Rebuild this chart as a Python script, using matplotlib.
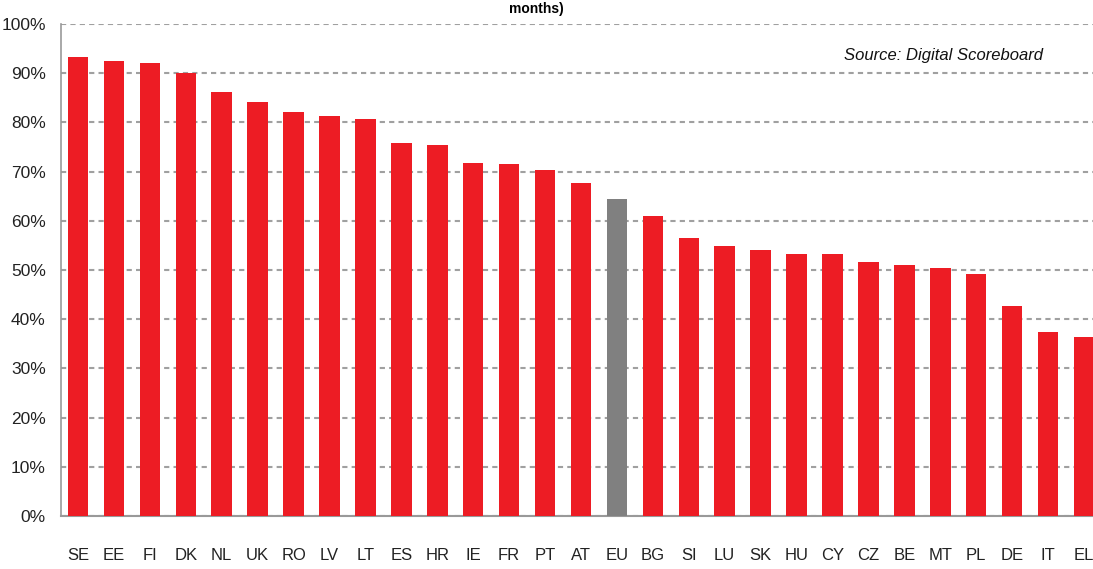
import matplotlib.pyplot as plt
from matplotlib.ticker import PercentFormatter

countries = ['SE', 'EE', 'FI', 'DK', 'NL', 'UK', 'RO', 'LV', 'LT', 'ES',
             'HR', 'IE', 'FR', 'PT', 'AT', 'EU', 'BG', 'SI', 'LU', 'SK',
             'HU', 'CY', 'CZ', 'BE', 'MT', 'PL', 'DE', 'IT', 'EL']
share = [93.3, 92.5, 92.1, 90.0, 86.2, 84.1, 82.1, 81.3, 80.7, 75.8,
         75.4, 71.7, 71.5, 70.3, 67.7, 64.4, 61.0, 56.5, 54.9, 54.1,
         53.3, 53.3, 51.6, 51.0, 50.4, 49.2, 42.7, 37.4, 36.4]
yticks = list(range(0, 101, 10))

font = ['Liberation Sans', 'DejaVu Sans']

red = '#ED1C24'
grey = '#808080'
colors = [grey if c == 'EU' else red for c in countries]

fig = plt.figure(figsize=(10.93, 5.69), dpi=100)
ax = fig.add_axes([61 / 1093, 53 / 569, 1032 / 1093, 492 / 569])

ax.bar(range(len(countries)), share, width=0.57, color=colors, zorder=3)

ax.set_xlim(-0.473, 28.25)
ax.set_ylim(0, 100)
ax.set_yticks(yticks)
ax.yaxis.set_major_formatter(PercentFormatter(decimals=0))
ax.set_xticks(range(len(countries)))
ax.set_xticklabels(countries, fontfamily=font, fontsize=12, color='#222222')
for lab in ax.get_yticklabels():
    lab.set_fontfamily(font)
    lab.set_fontsize(12.5)
    lab.set_color('#222222')
ax.tick_params(axis='x', length=0, pad=23)
ax.tick_params(axis='y', length=0, pad=11)

ax.grid(axis='y', color='#A0A0A0', linestyle=(0, (2.5, 2)), linewidth=1.5, zorder=0)
for s in ['top', 'right']:
    ax.spines[s].set_visible(False)
ax.spines['left'].set_color('#999999')
ax.spines['bottom'].set_color('#999999')
ax.spines['left'].set_linewidth(1.2)
ax.spines['bottom'].set_linewidth(1.5)

fig.text(536 / 1093, 1 - 9 / 569, 'months)', ha='center', va='center',
         fontfamily=font, fontsize=10, fontweight='bold')
ax.text((1043 - 61) / 1032, 0.935, 'Source: Digital Scoreboard',
        transform=ax.transAxes, ha='right', va='center', fontfamily=font,
        fontsize=12, fontstyle='italic', color='#111111')

fig.savefig('out.png', dpi=100)
